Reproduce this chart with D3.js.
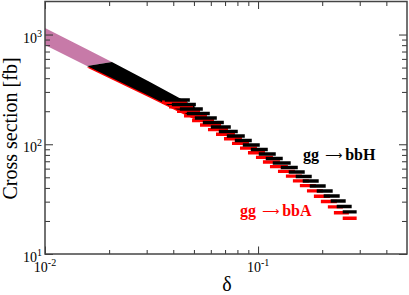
<!DOCTYPE html>
<html>
<head>
<meta charset="utf-8">
<script src="https://cdn.jsdelivr.net/npm/d3@7"></script>
<style>
body { margin: 0; background: #fff; }
</style>
</head>
<body>
<div id="chart"></div>
<script>
// axis ticks
var xMajor = [0.01, 0.1];
var xMinor = [0.02, 0.03, 0.04, 0.05, 0.06, 0.07, 0.08, 0.09, 0.2, 0.3, 0.4];
var yMajor = [10, 100, 1000];
var yMinor = [20, 30, 40, 50, 60, 70, 80, 90, 200, 300, 400, 500, 600, 700, 800, 900];
var xLabels = [{ v: 0.01, e: "-2" }, { v: 0.1, e: "-1" }];
var yLabels = [{ v: 10, e: "1" }, { v: 100, e: "2" }, { v: 1000, e: "3" }];

// dense part, pink band (left of the scan)
var pinkDelta = [0.01, 0.01574, 0.02061];
var pinkHi = [1149, 733, 563];
var pinkLo = [804, 518, 563];

// dense part of gg -> bbH / gg -> bbA
var bandDelta = [0.01574, 0.02061, 0.03107, 0.04294, 0.05048];
var bbHHi = [518, 563, 370, 262, 221];
var bbHLo = [518, 402, 274, 201, 174];
var bbAHi = [502, 545, 358, 253, 214];
var bbALo = [502, 389, 266, 195, 168];

// separated dashes, gg -> bbH
var bbHLoD = [0.03652, 0.03939, 0.04295, 0.04631, 0.05050, 0.05504, 0.0600, 0.06543, 0.07133, 0.07777, 0.0848, 0.09243, 0.10076, 0.10866, 0.1172, 0.1278, 0.1393, 0.1502, 0.1620, 0.1748, 0.1885, 0.2032, 0.2192, 0.2339, 0.2496];
var bbHHiD = [0.04784, 0.05105, 0.05504, 0.05935, 0.06403, 0.06907, 0.07447, 0.0803, 0.08663, 0.09343, 0.10186, 0.11106, 0.12106, 0.13057, 0.1423, 0.1536, 0.1656, 0.1786, 0.1926, 0.2077, 0.2240, 0.2416, 0.2578, 0.2750, 0.2902];
var bbHSig = [253.4, 230.6, 209.8, 190.9, 173.7, 158.0, 143.8, 130.8, 119.0, 108.3, 98.5, 89.7, 81.6, 74.2, 67.5, 61.4, 55.9, 50.9, 46.3, 41.7, 37.5, 33.8, 30.4, 27.1, 24.2];

// separated dashes, gg -> bbA
var bbALoD = [0.03542, 0.03821, 0.04166, 0.04492, 0.04899, 0.05339, 0.0582, 0.06347, 0.06919, 0.07544, 0.08226, 0.08966, 0.09774, 0.1054, 0.1137, 0.1240, 0.1351, 0.1457, 0.1571, 0.1696, 0.1828, 0.1971, 0.2126, 0.2269, 0.2496];
var bbAHiD = [0.04640, 0.04952, 0.05339, 0.05757, 0.06211, 0.0670, 0.07224, 0.07789, 0.08403, 0.09063, 0.0988, 0.10773, 0.11743, 0.12665, 0.1380, 0.1490, 0.1606, 0.1732, 0.1868, 0.2015, 0.2173, 0.2344, 0.2501, 0.2668, 0.2902];
var bbASig = [241.2, 219.5, 199.3, 181.3, 164.8, 149.7, 136.0, 123.5, 112.3, 101.9, 92.3, 83.8, 76.0, 68.9, 62.5, 56.6, 51.2, 46.4, 42.0, 37.6, 33.6, 30.1, 26.9, 23.8, 21.2];

var W = 409, H = 295;
var pL = 45, pR = 407, pT = 1.5, pB = 254;

var svg = d3.select("#chart")
    .append("svg")
    .attr("width", W)
    .attr("height", H);

var x = d3.scaleLog().domain([0.01, 0.5]).range([pL, pR]);
var y = d3.scaleLog().domain([10, 2000]).range([pB, pT]);

svg.append("defs").append("clipPath")
    .attr("id", "clip")
    .append("rect")
    .attr("x", pL)
    .attr("y", pT)
    .attr("width", pR - pL)
    .attr("height", pB - pT);

var plot = svg.append("g").attr("clip-path", "url(#clip)");

function band(hi, lo) {
    return d3.area()
        .x(function (d, i) { return x(d); })
        .y0(function (d, i) { return y(lo[i]); })
        .y1(function (d, i) { return y(hi[i]); });
}

plot.append("path")
    .attr("d", band(pinkHi, pinkLo)(pinkDelta))
    .attr("fill", "#c77aa8");

plot.append("path")
    .attr("d", band(bbAHi, bbALo)(bandDelta))
    .attr("fill", "#ff0000");
plot.append("path")
    .attr("d", band(bbHHi, bbHLo)(bandDelta))
    .attr("fill", "#000");

// dashes, red under black
function dashes(lo, hi, sig, color) {
    plot.append("g").selectAll("line")
        .data(sig)
        .enter().append("line")
        .attr("x1", function (d, i) { return x(lo[i]); })
        .attr("x2", function (d, i) { return x(hi[i]); })
        .attr("y1", function (d) { return y(d); })
        .attr("y2", function (d) { return y(d); })
        .attr("stroke", color)
        .attr("stroke-width", 3.4);
}
dashes(bbALoD, bbAHiD, bbASig, "#ff0000");
dashes(bbHLoD, bbHHiD, bbHSig, "#000");

// axes, ticks pointing inside
function tickAxis(axis, vals, len, tx, ty) {
    var g = svg.append("g")
        .attr("transform", "translate(" + tx + "," + ty + ")")
        .call(axis.tickValues(vals).tickSize(-len).tickFormat(""));
    g.select(".domain").remove();
    g.selectAll(".tick line").attr("stroke", "#333").attr("stroke-width", 1);
}
tickAxis(d3.axisBottom(x), xMajor, 7.5, 0, pB);
tickAxis(d3.axisBottom(x), xMinor, 4, 0, pB);
tickAxis(d3.axisTop(x), xMajor, 7.5, 0, pT);
tickAxis(d3.axisTop(x), xMinor, 4.5, 0, pT);
tickAxis(d3.axisLeft(y), yMajor, 8, pL, 0);
tickAxis(d3.axisLeft(y), yMinor, 5, pL, 0);
tickAxis(d3.axisRight(y), yMajor, 8, pR, 0);
tickAxis(d3.axisRight(y), yMinor, 5, pR, 0);

svg.append("rect")
    .attr("x", pL)
    .attr("y", pT)
    .attr("width", pR - pL)
    .attr("height", pB - pT)
    .attr("fill", "none")
    .attr("stroke", "#444")
    .attr("stroke-width", 1.5);

var serif = "'Liberation Serif', 'Times New Roman', serif";

// tick labels 10^n
var xl = svg.append("g").selectAll("text")
    .data(xLabels)
    .enter().append("text")
    .attr("x", function (d) { return x(d.v); })
    .attr("y", 272)
    .attr("text-anchor", "middle")
    .attr("font-family", serif)
    .attr("font-size", "14px")
    .attr("fill", "#000");
xl.append("tspan").text("10");
xl.append("tspan").attr("dy", -6).attr("font-size", "10px").text(function (d) { return d.e; });

var yl = svg.append("g").selectAll("text")
    .data(yLabels)
    .enter().append("text")
    .attr("x", 42)
    .attr("y", function (d) { return y(d.v) + 8; })
    .attr("text-anchor", "end")
    .attr("font-family", serif)
    .attr("font-size", "14px")
    .attr("fill", "#000");
yl.append("tspan").text("10");
yl.append("tspan").attr("dy", -6).attr("font-size", "10px").text(function (d) { return d.e; });

// axis titles
svg.append("text")
    .attr("transform", "translate(17," + 128.5 + ") rotate(-90)")
    .attr("text-anchor", "middle")
    .attr("font-family", serif)
    .attr("font-size", "20px")
    .attr("fill", "#000")
    .text("Cross section [fb]");

svg.append("text")
    .attr("x", 227)
    .attr("y", 291)
    .attr("text-anchor", "middle")
    .attr("font-family", serif)
    .attr("font-size", "20px")
    .attr("fill", "#000")
    .text("δ");

// process labels
function procLabel(px, py, name, color) {
    var t = svg.append("text")
        .attr("x", px)
        .attr("y", py)
        .attr("font-family", serif)
        .attr("font-size", "16px")
        .attr("fill", color);
    t.append("tspan").attr("font-weight", "bold").text("gg");
    t.append("tspan")
        .attr("dx", 6)
        .attr("dy", -1)
        .attr("font-family", "'DejaVu Sans', sans-serif")
        .attr("font-size", "12px")
        .text("\u27F6");
    t.append("tspan").attr("dx", 3).attr("dy", 1).attr("font-weight", "bold").text(name);
}
procLabel(303, 160, "bbH", "#000");
procLabel(240, 216, "bbA", "#ff0000");
</script>
</body>
</html>
